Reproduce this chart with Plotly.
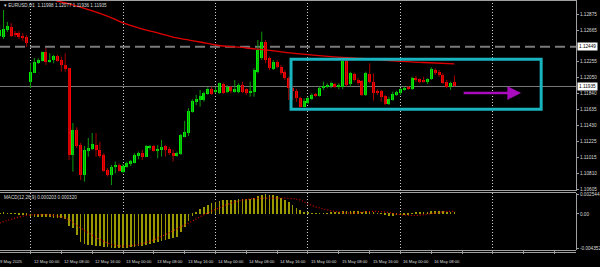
import plotly.graph_objects as go

# ---------------- data (H1 bars, hour 0 = 12 May 2025 00:00) ----------------
hours = list(range(-8, 111))

opens = [1.12590, 1.12577, 1.12668, 1.12707, 1.12629, 1.12629, 1.12590, 1.12577,
         1.11997, 1.12114, 1.12244, 1.12270, 1.12379, 1.12257, 1.12279, 1.12331, 1.12279, 1.12214,
         1.12171, 1.11047, 1.11371, 1.11176, 1.10787, 1.11099, 1.11121, 1.11176, 1.11112, 1.11047,
         1.10852, 1.10787, 1.10886, 1.10917, 1.10830, 1.10895, 1.10926, 1.10947, 1.11038, 1.11069,
         1.11025, 1.11146, 1.11163, 1.11103, 1.11112, 1.11163, 1.11121, 1.11069, 1.11038, 1.11060,
         1.11284, 1.11336, 1.11608, 1.11738, 1.11766, 1.11760, 1.11838, 1.11899, 1.11868, 1.11847,
         1.11967, 1.11868, 1.11925, 1.11868, 1.11868, 1.11955, 1.11899, 1.11855, 1.11868, 1.12127,
         1.12301, 1.12517, 1.12301, 1.12162, 1.12257, 1.12192, 1.12127, 1.12041, 1.11916, 1.11877,
         1.11782, 1.11673, 1.11725, 1.11769, 1.11825, 1.11812, 1.11912, 1.11925, 1.11942, 1.11967,
         1.11925, 1.11933, 1.12270, 1.11967, 1.12097, 1.12019, 1.12010, 1.11825, 1.12097, 1.11997,
         1.11881, 1.11877, 1.11812, 1.11708, 1.11760, 1.11825, 1.11847, 1.11890, 1.11925, 1.11899,
         1.12041, 1.12028, 1.12019, 1.11997, 1.12028, 1.12149, 1.12127, 1.12084, 1.11997, 1.11925,
         1.11998]
highs = [1.12720, 1.12927, 1.12772, 1.12759, 1.12655, 1.12655, 1.12629, 1.12603,
         1.12240, 1.12305, 1.12301, 1.12387, 1.12431, 1.12366, 1.12344, 1.12344, 1.12322, 1.12366,
         1.12175, 1.11462, 1.11406, 1.11202, 1.11163, 1.11267, 1.11332, 1.11332, 1.11219, 1.11069,
         1.10878, 1.10917, 1.10960, 1.10938, 1.10930, 1.10960, 1.10982, 1.11069, 1.11090, 1.11112,
         1.11176, 1.11176, 1.11176, 1.11176, 1.11241, 1.11176, 1.11154, 1.11112, 1.11090, 1.11319,
         1.11488, 1.11652, 1.11769, 1.11825, 1.11890, 1.11868, 1.11925, 1.11933, 1.11925, 1.11985,
         1.11985, 1.11955, 1.11942, 1.12019, 1.11977, 1.11997, 1.11912, 1.11997, 1.12171, 1.12538,
         1.12646, 1.12538, 1.12322, 1.12279, 1.12279, 1.12214, 1.12149, 1.12062, 1.11942, 1.11903,
         1.11803, 1.11782, 1.11803, 1.11847, 1.11851, 1.11933, 1.11997, 1.11977, 1.11997, 1.11985,
         1.11977, 1.12288, 1.12288, 1.12127, 1.12114, 1.12041, 1.12019, 1.12127, 1.12236, 1.12106,
         1.11899, 1.11890, 1.11825, 1.11803, 1.11868, 1.11881, 1.11912, 1.11933, 1.11942, 1.12062,
         1.12071, 1.12041, 1.12062, 1.12041, 1.12184, 1.12171, 1.12149, 1.12106, 1.12019, 1.11997,
         1.12077]
lows = [1.12564, 1.12551, 1.12642, 1.12577, 1.12577, 1.12551, 1.12525, 1.12448,
        1.11916, 1.12110, 1.12227, 1.12257, 1.12214, 1.12244, 1.12236, 1.12257, 1.12127, 1.12127,
        1.10982, 1.10830, 1.11137, 1.10722, 1.10700, 1.11025, 1.11112, 1.11025, 1.11008, 1.10830,
        1.10765, 1.10657, 1.10809, 1.10830, 1.10809, 1.10882, 1.10904, 1.10938, 1.10991, 1.10982,
        1.11017, 1.11112, 1.11090, 1.11004, 1.11025, 1.11025, 1.11047, 1.10960, 1.11025, 1.11047,
        1.11276, 1.11293, 1.11595, 1.11695, 1.11673, 1.11738, 1.11825, 1.11825, 1.11847, 1.11838,
        1.11838, 1.11847, 1.11847, 1.11855, 1.11847, 1.11847, 1.11825, 1.11803, 1.11803, 1.12106,
        1.12279, 1.12236, 1.12149, 1.12149, 1.12171, 1.12084, 1.12019, 1.11760, 1.11760, 1.11738,
        1.11665, 1.11665, 1.11708, 1.11760, 1.11799, 1.11803, 1.11890, 1.11912, 1.11912, 1.11912,
        1.11899, 1.11899, 1.11933, 1.11933, 1.11997, 1.11955, 1.11812, 1.11812, 1.11977, 1.11751,
        1.11825, 1.11738, 1.11695, 1.11695, 1.11751, 1.11812, 1.11825, 1.11881, 1.11890, 1.11890,
        1.11997, 1.11977, 1.11985, 1.11967, 1.12019, 1.12084, 1.12062, 1.11967, 1.11912, 1.11890,
        1.11935]
closes = [1.12668, 1.12681, 1.12720, 1.12590, 1.12603, 1.12577, 1.12570, 1.12499,
          1.12127, 1.12257, 1.12279, 1.12379, 1.12257, 1.12279, 1.12331, 1.12270, 1.12214, 1.12158,
          1.11047, 1.11371, 1.11163, 1.10787, 1.11112, 1.11142, 1.11189, 1.11112, 1.11034, 1.10843,
          1.10787, 1.10895, 1.10917, 1.10839, 1.10904, 1.10938, 1.10969, 1.11047, 1.11069, 1.11017,
          1.11163, 1.11163, 1.11099, 1.11121, 1.11154, 1.11112, 1.11069, 1.11034, 1.11069, 1.11306,
          1.11349, 1.11621, 1.11751, 1.11769, 1.11812, 1.11847, 1.11903, 1.11838, 1.11890, 1.11977,
          1.11855, 1.11933, 1.11881, 1.11899, 1.11955, 1.11868, 1.11847, 1.11881, 1.12149, 1.12409,
          1.12517, 1.12279, 1.12171, 1.12257, 1.12192, 1.12106, 1.12041, 1.11916, 1.11877, 1.11782,
          1.11673, 1.11747, 1.11782, 1.11825, 1.11812, 1.11912, 1.11942, 1.11955, 1.11977, 1.11925,
          1.11955, 1.12270, 1.11955, 1.12106, 1.12019, 1.11985, 1.11825, 1.12106, 1.11997, 1.11855,
          1.11855, 1.11803, 1.11708, 1.11769, 1.11834, 1.11868, 1.11899, 1.11912, 1.11899, 1.12041,
          1.12019, 1.11997, 1.11997, 1.12028, 1.12158, 1.12106, 1.12084, 1.11985, 1.11933, 1.11985,
          1.11935]

# moving average (red line), read at sampled bars
ma_hours = [4, 6, 10, 14, 18, 22, 24, 28, 32, 38, 44, 48, 56, 62, 70, 78, 86, 94, 102, 110]
ma_vals = [1.13109, 1.13057, 1.13005, 1.12947, 1.12882, 1.12804, 1.12759, 1.12694, 1.12642,
           1.12564, 1.12512, 1.12473, 1.12434, 1.12402, 1.12357, 1.12322, 1.12298, 1.12266,
           1.12246, 1.12227]

# MACD main (histogram), one per bar
macd = [0.00011, 0.00016, 0.00011, 0.00007, 0.00003, -0.00006, -0.00010, -0.00018,
        -0.00035, -0.00040, -0.00040, -0.00040, -0.00044, -0.00044, -0.00048, -0.00052, -0.00057, -0.00065,
        -0.00150, -0.00184, -0.00269, -0.00355, -0.00389, -0.00397, -0.00401, -0.00406, -0.00410, -0.00418,
        -0.00427, -0.00431, -0.00431, -0.00435, -0.00435, -0.00431, -0.00427, -0.00418, -0.00410, -0.00406,
        -0.00393, -0.00380, -0.00372, -0.00359, -0.00346, -0.00333, -0.00321, -0.00312, -0.00299, -0.00227,
        -0.00163, -0.00091, -0.00023, 0.00029, 0.00063, 0.00088, 0.00114, 0.00135, 0.00152, 0.00165,
        0.00173, 0.00178, 0.00182, 0.00182, 0.00186, 0.00186, 0.00186, 0.00190, 0.00203, 0.00229,
        0.00246, 0.002544, 0.00246, 0.00237, 0.00224, 0.00207, 0.00182, 0.00148, 0.00114, 0.00080,
        0.00046, 0.00029, 0.00016, 0.00007, 0.00003, 0.00003, 0.00007, 0.00011, 0.00016, 0.00016,
        0.00016, 0.00037, 0.00033, 0.00041, 0.00041, 0.00037, 0.00029, 0.00037, 0.00037, 0.00024,
        0.00011, -0.00001, -0.00018, -0.00023, -0.00023, -0.00018, -0.00014, -0.00010, -0.00010, 0.00007,
        0.00016, 0.00016, 0.00016, 0.00020, 0.00037, 0.00041, 0.00041, 0.00033, 0.00024, 0.00020,
        0.000203]

# MACD signal (red dotted), read at sampled bars
sig_hours = [-8, 0, 9, 13, 20, 24, 30, 40, 47, 53, 57, 67, 70, 72, 76, 80, 84, 88, 92, 96, 100, 104, 108, 110]
sig_vals = [-0.00116, -0.00014, -0.00052, -0.00180, -0.00372, -0.00410, -0.00365, -0.00142, 0.00037,
            0.00152, 0.00190, 0.00199, 0.00178, 0.00126, 0.00063, 0.00024, 0.00011, 0.00031, 0.00024,
            -0.00008, -0.00020, 0.00005, 0.00031, 0.00032]

price_ticks = [1.12875, 1.12665, 1.12255, 1.12050, 1.11840, 1.11635, 1.11430, 1.11225,
               1.11015, 1.10810, 1.10605]
macd_ticks = [0.002544, 0.0, -0.004352]
macd_tick_text = ["0.002544", "0.00", "-0.004352"]

time_label_hours = [-7.9, 0, 8, 16, 24, 32, 40, 48, 56, 64, 72, 80, 88, 96, 104]
time_labels = ["9 May 2025", "12 May 00:00", "12 May 08:00", "12 May 16:00", "13 May 00:00",
               "13 May 08:00", "13 May 16:00", "14 May 00:00", "14 May 08:00", "14 May 16:00",
               "15 May 00:00", "15 May 08:00", "15 May 16:00", "16 May 00:00", "16 May 08:00"]
time_label_shift = [-2] + [1] * 14

dashed_level = 1.12449
last_price = 1.11935
header = "EURUSD,H1  1.11998 1.12077 1.11936 1.11935"
macd_header = "MACD(12,26,9) 0.000203 0.000320"

# drawn objects (time in hours, price)
box_t0, box_t1, box_p0, box_p1 = 67.6, 132.5, 1.11639, 1.12287
arrow_t0, arrow_t1, arrow_p = 112.0, 127.3, 1.11850

# ---------------- figure ----------------
FONT = "Liberation Sans, Arial, sans-serif"
TXT = "#dcdcdc"
fig = go.Figure()

bull_x, bull_y, bear_x, bear_y = [], [], [], []
for h, o, hi, lo, c in zip(hours, opens, highs, lows, closes):
    if c >= o:
        bull_x += [h, h, None]; bull_y += [lo, hi, None]
    else:
        bear_x += [h, h, None]; bear_y += [lo, hi, None]

fig.add_trace(go.Scatter(x=bull_x, y=bull_y, mode="lines", line=dict(color="#0b9a0b", width=1),
                         hoverinfo="skip", showlegend=False))
fig.add_trace(go.Scatter(x=bear_x, y=bear_y, mode="lines", line=dict(color="#a80000", width=1),
                         hoverinfo="skip", showlegend=False))

bh = [h for h, o, c in zip(hours, opens, closes) if c >= o]
bb = [o for o, c in zip(opens, closes) if c >= o]
bd = [max(c - o, 0.00003) for o, c in zip(opens, closes) if c >= o]
rh = [h for h, o, c in zip(hours, opens, closes) if c < o]
rb = [c for o, c in zip(opens, closes) if c < o]
rd = [max(o - c, 0.00003) for o, c in zip(opens, closes) if c < o]
fig.add_trace(go.Bar(x=bh, y=bd, base=bb, width=0.78, marker=dict(color="#00f000", line=dict(width=0)),
                     showlegend=False))
fig.add_trace(go.Bar(x=rh, y=rd, base=rb, width=0.78, marker=dict(color="#ff0000", line=dict(width=0)),
                     showlegend=False))

fig.add_trace(go.Scatter(x=ma_hours, y=ma_vals, mode="lines", line=dict(color="#e00000", width=1.3, shape="spline"),
                         showlegend=False))

fig.add_trace(go.Bar(x=hours, y=macd, width=0.18, marker=dict(color="#9a9a00", line=dict(width=0)),
                     yaxis="y2", showlegend=False))
fig.add_trace(go.Scatter(x=sig_hours, y=sig_vals, mode="lines", yaxis="y2",
                         line=dict(color="#e00000", width=1.2, dash="1px,2px", shape="spline"),
                         showlegend=False))

H = 252.0  # plot height in px (t=0, b=15)
def py(pix):
    return 1 - pix / H

fig.update_layout(
    width=600, height=267, margin=dict(l=0, r=24, t=0, b=15),
    paper_bgcolor="black", plot_bgcolor="black", barmode="overlay", bargap=0,
    showlegend=False,
    xaxis=dict(range=[-7.914, 141.54], anchor="y2", tickmode="linear", tick0=0, dtick=24,
               showgrid=True, gridcolor="#cfcfcf", griddash="1px,2px", gridwidth=1,
               showticklabels=False, ticks="outside", ticklen=3, tickcolor="#a0a0a0",
               minor=dict(dtick=8, tick0=0, ticks="outside", ticklen=3, tickcolor="#a0a0a0", showgrid=False),
               zeroline=False, showline=False, fixedrange=True),
    yaxis=dict(domain=[py(191), 1], range=[1.105791, 1.130566], side="right", anchor="x",
               tickmode="array", tickvals=price_ticks, ticktext=[f"{v:.5f}" for v in price_ticks],
               tickfont=dict(family=FONT, size=4.7, color=TXT), ticks="outside", ticklen=2,
               tickcolor="#a0a0a0", showgrid=False, zeroline=False, showline=True,
               linecolor="#a0a0a0", linewidth=1),
    yaxis2=dict(domain=[py(250), py(193)], range=[-0.004607, 0.002672], side="right", anchor="x",
                tickmode="array", tickvals=macd_ticks, ticktext=macd_tick_text,
                tickfont=dict(family=FONT, size=4.7, color=TXT), ticks="outside", ticklen=2,
                tickcolor="#a0a0a0", showgrid=False, zeroline=False, showline=True,
                linecolor="#a0a0a0", linewidth=1),
)

shapes = []
shapes.append(dict(type="line", xref="paper", x0=0, x1=1, yref="y", y0=dashed_level, y1=dashed_level,
                   line=dict(color="#7a7a7a", width=2, dash="10px,5px"), layer="below"))
shapes.append(dict(type="line", xref="paper", x0=0, x1=1, yref="y", y0=last_price, y1=last_price,
                   line=dict(color="#7a7a7a", width=1), layer="below"))
for pix in [0.5, 190.5, 192.5, 250.5, 252.5]:
    shapes.append(dict(type="line", xref="paper", x0=0, x1=1, yref="paper", y0=py(pix), y1=py(pix),
                       line=dict(color="#a0a0a0", width=1)))
shapes.append(dict(type="rect", xref="x", yref="y", x0=box_t0, x1=box_t1, y0=box_p0, y1=box_p1,
                   line=dict(color="#18b4c0", width=3), fillcolor="rgba(0,0,0,0)", layer="above"))
fig.update_layout(shapes=shapes)

ann = []
ann.append(dict(xref="paper", yref="paper", x=2 / 576, y=py(5), text="▾ " + header, showarrow=False,
                xanchor="left", yanchor="middle", font=dict(family=FONT, size=4.6, color=TXT)))
ann.append(dict(xref="paper", yref="paper", x=2 / 576, y=py(197), text=macd_header, showarrow=False,
                xanchor="left", yanchor="middle", font=dict(family=FONT, size=4.6, color=TXT)))
for h, t, s in zip(time_label_hours, time_labels, time_label_shift):
    ann.append(dict(xref="x", yref="paper", x=h, y=py(261), text=t, showarrow=False, xanchor="left",
                    yanchor="middle", xshift=s, font=dict(family=FONT, size=4.2, color=TXT)))
for v in [dashed_level, last_price]:
    ann.append(dict(xref="paper", yref="y", x=1, y=v, text=f"{v:.5f}", showarrow=False, xanchor="left",
                    yanchor="middle", xshift=1, bgcolor="white", borderpad=1,
                    font=dict(family=FONT, size=4.7, color="black")))
ann.append(dict(xref="x", yref="y", axref="x", ayref="y", x=arrow_t1, y=arrow_p, ax=arrow_t0, ay=arrow_p,
                text="", showarrow=True, arrowhead=2, arrowsize=1.1, arrowwidth=2.5, arrowcolor="#a80cbc"))
fig.update_layout(annotations=ann)

fig.write_html("out.html")
